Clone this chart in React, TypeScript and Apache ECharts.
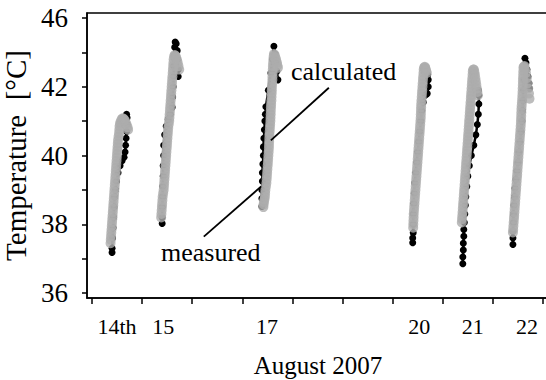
import React, { useEffect, useRef } from 'react';
import * as echarts from 'echarts';

// ---- axis ticks & labels ----
const dayLabels = ['14th', '15', '17', '20', '21', '22'];
const dayLabelPos = [0.5, 1.42, 3.49, 6.53, 7.6, 8.68];
const xTickValues = [0, 1, 2, 3, 4, 5, 6, 7, 8, 9];
const yTickValues = [36, 37, 38, 39, 40, 41, 42, 43, 44];
const yLabelValues = [36, 38, 40, 42, 44];
const yLabelTexts = ['36', '38', '40', '42', '46'];

// ---- measured (black) ----
const measured14 = [[0.40,37.18],[0.40,37.3],[0.41,37.6],[0.42,37.9],[0.43,38.2],[0.44,38.5],[0.45,38.8],[0.47,39.0],[0.49,39.25],[0.52,39.5],[0.56,39.7],[0.60,39.85],[0.64,39.95],[0.66,40.1],[0.67,40.3],[0.68,40.5],[0.69,40.7],[0.70,40.9],[0.70,41.1],[0.69,41.2]];
const measured15 = [[1.40,38.02],[1.40,38.2],[1.40,38.5],[1.41,38.8],[1.41,39.1],[1.42,39.4],[1.42,39.7],[1.43,40.0],[1.43,40.3],[1.45,40.6],[1.48,40.85],[1.52,41.05],[1.56,41.2],[1.60,41.4],[1.61,41.7],[1.62,42.0],[1.63,42.3],[1.63,42.6],[1.64,42.9],[1.65,43.15],[1.66,43.3],[1.68,43.25],[1.70,43.05],[1.71,42.8],[1.72,42.5],[1.72,42.3]];
const measured17 = [[3.39,38.52],[3.39,38.75],[3.39,39.0],[3.40,39.25],[3.40,39.5],[3.41,39.75],[3.42,40.0],[3.42,40.25],[3.43,40.5],[3.44,40.75],[3.45,41.0],[3.46,41.2],[3.47,41.42],[3.52,41.9],[3.57,42.4],[3.60,42.8],[3.63,43.18],[3.65,42.95],[3.67,42.7],[3.69,42.45],[3.71,42.2]];
const measured20 = [[6.40,37.46],[6.40,37.6],[6.41,37.75],[6.41,38.0],[6.41,38.3],[6.42,38.6],[6.43,38.9],[6.44,39.2],[6.46,39.5],[6.48,39.8],[6.50,40.1],[6.52,40.4],[6.54,40.7],[6.56,41.0],[6.58,41.3],[6.61,41.55],[6.65,41.75],[6.69,41.8],[6.71,42.0],[6.71,42.2],[6.70,42.35]];
const measured21 = [[7.40,36.85],[7.40,37.05],[7.41,37.25],[7.41,37.45],[7.42,37.65],[7.42,37.85],[7.43,38.05],[7.44,38.3],[7.45,38.55],[7.46,38.8],[7.48,39.1],[7.50,39.4],[7.53,39.7],[7.57,40.0],[7.62,40.3],[7.66,40.6],[7.69,40.9],[7.71,41.2],[7.72,41.5],[7.72,41.75],[7.71,41.9]];
const measured22 = [[8.40,37.41],[8.40,37.6],[8.40,37.8],[8.41,38.05],[8.41,38.3],[8.42,38.55],[8.43,38.8],[8.44,39.05],[8.46,39.3],[8.48,39.55],[8.50,39.8],[8.52,40.1],[8.54,40.4],[8.56,40.7],[8.58,41.0],[8.59,41.3],[8.60,41.6],[8.61,41.9],[8.62,42.2],[8.63,42.5],[8.64,42.83],[8.66,42.7],[8.68,42.5],[8.70,42.3],[8.72,42.1],[8.73,41.95]];

// ---- calculated (grey) ----
const calculated14 = [[0.37,37.45],[0.375,37.55],[0.38,37.65],[0.385,37.75],[0.39,37.85],[0.395,37.95],[0.40,38.05],[0.405,38.15],[0.41,38.25],[0.415,38.35],[0.42,38.45],[0.425,38.55],[0.43,38.65],[0.435,38.75],[0.44,38.85],[0.445,38.95],[0.45,39.05],[0.455,39.15],[0.46,39.25],[0.465,39.35],[0.47,39.45],[0.475,39.55],[0.48,39.65],[0.485,39.75],[0.49,39.85],[0.495,39.95],[0.50,40.05],[0.505,40.15],[0.51,40.25],[0.515,40.35],[0.52,40.45],[0.53,40.55],[0.54,40.65],[0.545,40.75],[0.55,40.85],[0.56,40.92],[0.57,40.98],[0.59,41.05],[0.61,41.08],[0.63,41.07],[0.65,41.03],[0.67,40.97],[0.69,40.9],[0.71,40.82],[0.72,40.75]];
const calculated15 = [[1.38,38.2],[1.385,38.3],[1.39,38.4],[1.395,38.5],[1.40,38.6],[1.405,38.7],[1.41,38.8],[1.42,38.9],[1.43,39.0],[1.435,39.1],[1.44,39.2],[1.445,39.3],[1.45,39.4],[1.455,39.5],[1.46,39.6],[1.465,39.7],[1.47,39.8],[1.475,39.9],[1.48,40.0],[1.485,40.1],[1.49,40.2],[1.495,40.3],[1.50,40.4],[1.505,40.5],[1.51,40.6],[1.515,40.7],[1.52,40.8],[1.53,40.9],[1.54,41.0],[1.545,41.1],[1.55,41.2],[1.555,41.3],[1.56,41.4],[1.565,41.5],[1.57,41.6],[1.575,41.7],[1.58,41.8],[1.585,41.9],[1.59,42.0],[1.595,42.1],[1.60,42.2],[1.605,42.3],[1.61,42.4],[1.615,42.5],[1.62,42.6],[1.625,42.7],[1.63,42.8],[1.64,42.88],[1.65,42.92],[1.665,42.9],[1.68,42.85],[1.695,42.78],[1.71,42.7],[1.725,42.6],[1.74,42.5]];
const calculated17 = [[3.42,38.5],[3.425,38.58],[3.43,38.65],[3.44,38.72],[3.45,38.8],[3.455,38.9],[3.46,39.0],[3.47,39.1],[3.48,39.2],[3.485,39.3],[3.49,39.4],[3.495,39.5],[3.50,39.6],[3.505,39.7],[3.51,39.8],[3.515,39.9],[3.52,40.0],[3.525,40.1],[3.53,40.2],[3.532,40.3],[3.535,40.4],[3.538,40.5],[3.54,40.6],[3.545,40.7],[3.55,40.8],[3.555,40.9],[3.56,41.0],[3.562,41.1],[3.565,41.2],[3.568,41.3],[3.57,41.4],[3.575,41.5],[3.58,41.6],[3.582,41.7],[3.585,41.8],[3.588,41.9],[3.59,42.0],[3.595,42.1],[3.60,42.2],[3.602,42.3],[3.605,42.4],[3.608,42.5],[3.61,42.6],[3.615,42.7],[3.62,42.8],[3.625,42.88],[3.63,42.95],[3.645,42.92],[3.66,42.85],[3.675,42.78],[3.69,42.7],[3.70,42.62],[3.71,42.55]];
const calculated20 = [[6.41,37.9],[6.412,38.0],[6.415,38.1],[6.418,38.2],[6.42,38.3],[6.425,38.4],[6.43,38.5],[6.435,38.6],[6.44,38.7],[6.445,38.8],[6.45,38.9],[6.455,39.0],[6.46,39.1],[6.465,39.2],[6.47,39.3],[6.475,39.4],[6.48,39.5],[6.485,39.6],[6.49,39.7],[6.495,39.8],[6.50,39.9],[6.505,40.0],[6.51,40.1],[6.515,40.2],[6.52,40.3],[6.525,40.4],[6.53,40.5],[6.535,40.6],[6.54,40.7],[6.545,40.8],[6.55,40.9],[6.555,41.0],[6.56,41.1],[6.562,41.2],[6.565,41.3],[6.568,41.4],[6.57,41.5],[6.575,41.6],[6.58,41.7],[6.585,41.8],[6.59,41.9],[6.595,42.0],[6.60,42.1],[6.605,42.2],[6.61,42.3],[6.615,42.4],[6.62,42.5],[6.63,42.56],[6.64,42.58],[6.65,42.55],[6.66,42.5],[6.67,42.45],[6.68,42.4]];
const calculated21 = [[7.38,38.05],[7.385,38.15],[7.39,38.25],[7.395,38.35],[7.40,38.45],[7.405,38.55],[7.41,38.65],[7.415,38.75],[7.42,38.85],[7.425,38.95],[7.43,39.05],[7.435,39.15],[7.44,39.25],[7.445,39.35],[7.45,39.45],[7.455,39.55],[7.46,39.65],[7.465,39.75],[7.47,39.85],[7.475,39.95],[7.48,40.05],[7.485,40.15],[7.49,40.25],[7.495,40.35],[7.50,40.45],[7.505,40.55],[7.51,40.65],[7.515,40.75],[7.52,40.85],[7.525,40.95],[7.53,41.05],[7.535,41.15],[7.54,41.25],[7.545,41.35],[7.55,41.45],[7.555,41.55],[7.56,41.65],[7.565,41.75],[7.57,41.85],[7.575,41.95],[7.58,42.05],[7.585,42.15],[7.59,42.25],[7.595,42.35],[7.60,42.45],[7.61,42.5],[7.62,42.5],[7.63,42.43],[7.64,42.35],[7.65,42.25],[7.66,42.15],[7.67,42.05],[7.68,41.95],[7.69,41.85],[7.70,41.75]];
const calculated22 = [[8.40,37.76],[8.405,37.85],[8.41,37.95],[8.415,38.05],[8.42,38.15],[8.425,38.25],[8.43,38.35],[8.435,38.45],[8.44,38.55],[8.445,38.65],[8.45,38.75],[8.455,38.85],[8.46,38.95],[8.465,39.05],[8.47,39.15],[8.475,39.25],[8.48,39.35],[8.485,39.45],[8.49,39.55],[8.495,39.65],[8.50,39.75],[8.505,39.85],[8.51,39.95],[8.515,40.05],[8.52,40.15],[8.525,40.25],[8.53,40.35],[8.535,40.45],[8.54,40.55],[8.545,40.65],[8.55,40.75],[8.555,40.85],[8.56,40.95],[8.562,41.05],[8.565,41.15],[8.568,41.25],[8.57,41.35],[8.575,41.45],[8.58,41.55],[8.585,41.65],[8.59,41.75],[8.592,41.85],[8.595,41.95],[8.598,42.05],[8.60,42.15],[8.602,42.25],[8.605,42.35],[8.608,42.45],[8.61,42.55],[8.62,42.58],[8.63,42.6],[8.645,42.5],[8.66,42.4],[8.675,42.25],[8.69,42.1],[8.705,41.95],[8.72,41.8],[8.73,41.65]];

// ---- annotation leader lines (data coords) ----
const calcLeader = [[4.727, 41.97], [3.569, 40.44]];
const measLeader = [[2.231, 37.64], [3.375, 39.10]];

const measuredSets = [measured14, measured15, measured17, measured20, measured21, measured22];
const calculatedSets = [calculated14, calculated15, calculated17, calculated20, calculated21, calculated22];

const FONT = 'Liberation Serif';

export default function App() {
  const ref = useRef<HTMLDivElement>(null);
  useEffect(() => {
    if (!ref.current) return;
    const chart = echarts.init(ref.current, null, { renderer: 'svg' });
    const series: any[] = [];
    measuredSets.forEach((d, i) => {
      series.push({
        type: 'line', name: 'measured' + i, data: d, symbol: 'circle', symbolSize: 7,
        lineStyle: { color: '#000', width: 2.5 }, itemStyle: { color: '#000' },
        z: 2, silent: true,
      });
    });
    calculatedSets.forEach((d, i) => {
      series.push({
        type: 'scatter', name: 'calculated' + i, data: d, symbol: 'circle', symbolSize: 10,
        itemStyle: { color: '#adadad', borderWidth: 0 },
        z: 3, silent: true,
      });
    });
    [calcLeader, measLeader].forEach((d, i) => {
      series.push({
        type: 'line', name: 'leader' + i, data: d, symbol: 'none',
        lineStyle: { color: '#000', width: 1.8 }, z: 4, silent: true,
      });
    });
    chart.setOption({
      animation: false,
      backgroundColor: '#fff',
      textStyle: { fontFamily: FONT, color: '#000' },
      grid: {
        left: 87, top: 13, right: -3, bottom: 82, show: true, borderColor: '#000', borderWidth: 1.5,
        containLabel: false, outerBoundsMode: 'none',
      },
      xAxis: {
        type: 'value', min: -0.1, max: 9.12, position: 'bottom',
        name: 'August 2007', nameLocation: 'middle', nameGap: 55,
        nameTextStyle: { fontFamily: FONT, fontSize: 25, color: '#000' },
        axisLine: { show: true, onZero: false, lineStyle: { color: '#000', width: 1.5 } },
        axisTick: { show: true, length: 6, customValues: xTickValues, lineStyle: { color: '#000', width: 1.5 } },
        axisLabel: {
          show: true, customValues: dayLabelPos, margin: 17, fontFamily: FONT, fontSize: 22, color: '#000',
          formatter: (v: number) => {
            let best = 0;
            dayLabelPos.forEach((p, i) => { if (Math.abs(p - v) < Math.abs(dayLabelPos[best] - v)) best = i; });
            return dayLabels[best];
          },
        },
        splitLine: { show: false },
      },
      yAxis: {
        type: 'value', min: 35.855, max: 44.145,
        name: 'Temperature  [°C]', nameLocation: 'middle', nameGap: 48, nameRotate: 90,
        nameTextStyle: { fontFamily: FONT, fontSize: 29, color: '#000' },
        axisLine: { show: true, onZero: false, lineStyle: { color: '#000', width: 1.5 } },
        axisTick: { show: true, length: 5, customValues: yTickValues, lineStyle: { color: '#000', width: 1.5 } },
        axisLabel: {
          show: true, customValues: yLabelValues, margin: 19, fontFamily: FONT, fontSize: 27, color: '#000',
          formatter: (v: number) => {
            const idx = yLabelValues.findIndex((p) => Math.abs(p - v) < 1e-6);
            return idx >= 0 ? yLabelTexts[idx] : '';
          },
        },
        splitLine: { show: false },
      },
      graphic: [
        { type: 'text', x: 291, y: 71, z: 10, style: { text: 'calculated', fontFamily: FONT, fontSize: 26, fill: '#000', verticalAlign: 'middle' } },
        { type: 'text', x: 161, y: 252, z: 10, style: { text: 'measured', fontFamily: FONT, fontSize: 26, fill: '#000', verticalAlign: 'middle' } },
      ],
      series,
    });
    return () => chart.dispose();
  }, []);
  return <div ref={ref} style={{ position: 'absolute', left: 0, top: 0, width: 546, height: 380 }} />;
}
